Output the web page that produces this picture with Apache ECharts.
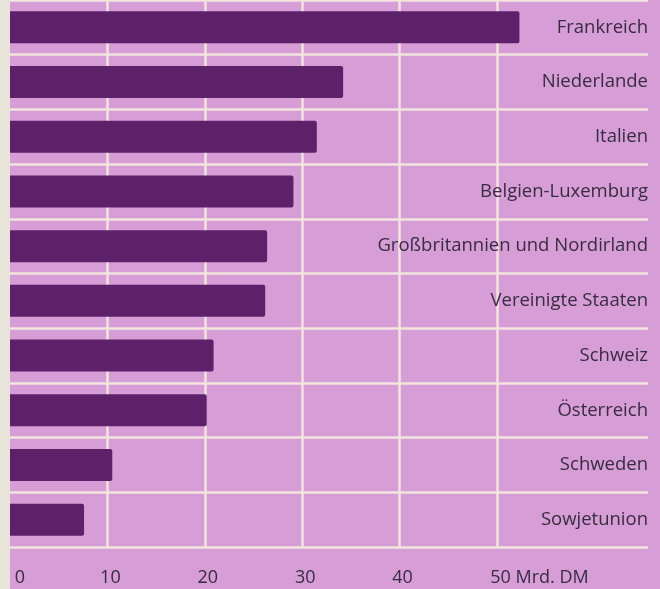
<!DOCTYPE html>
<html>
<head>
<meta charset="utf-8">
<script src="https://cdn.jsdelivr.net/npm/echarts@6/dist/echarts.min.js"></script>
<style>
  html, body { margin: 0; padding: 0; background: #e9e4da; }
  #main { position: absolute; left: 10px; top: 0; width: 650px; height: 589px; }
</style>
</head>
<body>
<div id="main"></div>
<script>
// Laender, von oben nach unten
var countries = ['Frankreich', 'Niederlande', 'Italien', 'Belgien-Luxemburg',
  'Großbritannien und Nordirland', 'Vereinigte Staaten', 'Schweiz',
  'Österreich', 'Schweden', 'Sowjetunion']
// Werte in Mrd. DM (aus dem Bild geschaetzt)
var values = [52.3, 34.2, 31.5, 29.1, 26.4, 26.2, 20.9, 20.2, 10.5, 7.6]
// Achsenbeschriftung
var tickValues = [0, 10, 20, 30, 40, 50]
var unitLabel = 'Mrd. DM'

var myChart = echarts.init(document.getElementById('main'))

var lineColor = '#f2e6dc'
var textColor = '#382c40'
var font = 'Open Sans'

var option = {
  backgroundColor: '#d69dd6',
  animation: false,
  grid: { left: 0, right: 12, top: -4, bottom: 42, containLabel: false },
  xAxis: {
    type: 'value',
    min: 0,
    max: 65.5,
    interval: 10,
    axisLine: { show: false },
    axisTick: { show: false },
    splitLine: {
      show: true,
      lineStyle: {
        width: 2.5,
        // keine Linie bei 0 und rechts von 50
        color: ['rgba(0,0,0,0)', lineColor, lineColor, lineColor, lineColor, lineColor,
          'rgba(0,0,0,0)', 'rgba(0,0,0,0)']
      }
    },
    axisLabel: {
      margin: 22,
      color: textColor,
      fontSize: 18,
      fontFamily: font,
      formatter: function (v) {
        if (tickValues.indexOf(v) < 0) return ''
        if (v === 0) return '{z|0}'
        if (v === 50) return '{m|50 ' + unitLabel + '}'
        return '{n|' + v + '}'
      },
      rich: {
        z: { padding: [0, 0, 0, 20], fontSize: 18, fontFamily: font, color: textColor },
        n: { padding: [0, 0, 0, 6], fontSize: 18, fontFamily: font, color: textColor },
        m: { padding: [0, 0, 0, 85], fontSize: 18, fontFamily: font, color: textColor }
      }
    }
  },
  yAxis: {
    type: 'category',
    data: countries,
    inverse: true,
    position: 'right',
    axisLine: { show: false },
    axisTick: { show: false },
    splitLine: { show: true, lineStyle: { color: lineColor, width: 2.5 } },
    axisLabel: {
      inside: true,
      margin: 0,
      color: textColor,
      fontSize: 18.5,
      fontWeight: 500,
      fontFamily: font
    }
  },
  series: [
    {
      type: 'bar',
      data: values,
      barWidth: 32,
      itemStyle: { color: '#5c2169', borderRadius: [0, 2, 2, 0] }
    }
  ]
}

myChart.setOption(option)
</script>
</body>
</html>
